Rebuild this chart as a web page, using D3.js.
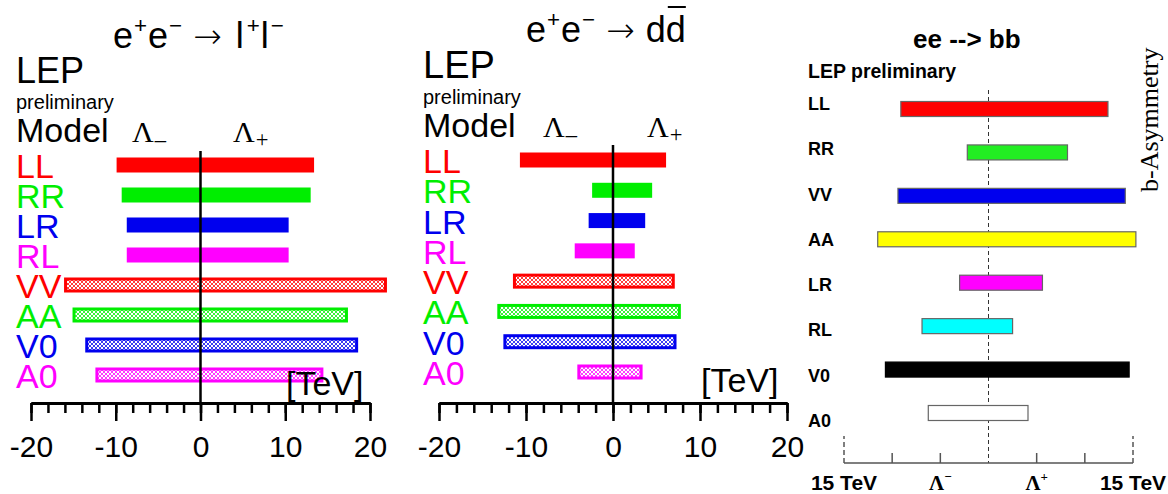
<!DOCTYPE html>
<html>
<head>
<meta charset="utf-8">
<script src="https://cdn.jsdelivr.net/npm/d3@7"></script>
<style>
  html, body { margin: 0; padding: 0; background: #fff; }
  svg { display: block; }
  text { font-family: "Liberation Sans", Arial, Helvetica, sans-serif; }
</style>
</head>
<body>
<svg id="chart" width="1168" height="494"></svg>
<script>
// Contact-interaction limits (95% CL), in TeV, for three LEP channels.

// e+e- -> l+l- and e+e- -> d dbar share the same model list
const models = ["LL", "RR", "LR", "RL", "VV", "AA", "V0", "A0"];
const modelColors = ["#ff0000", "#00ee00", "#0000ee", "#ff00ff", "#ff0000", "#00ee00", "#0000ee", "#ff00ff"];
const hatched = [false, false, false, false, true, true, true, true];

const leptonLow  = [-9.9, -9.3, -8.7, -8.7, -16.1, -15.1, -13.6, -12.4];
const leptonHigh = [13.4, 13.0, 10.4, 10.4, 22.0, 17.4, 18.6, 14.5];

const downLow  = [-10.7, -2.4, -2.8, -4.4, -11.5, -13.3, -12.6, -4.1];
const downHigh = [6.1, 4.5, 3.7, 2.5, 7.1, 7.8, 7.3, 3.4];

const axisTicks = [-20, -10, 0, 10, 20];
const minorTicks = d3.range(-20, 21, 2);

// e+e- -> b bbar (b-asymmetry)
const bModels = ["LL", "RR", "VV", "AA", "LR", "RL", "V0", "A0"];
const bColors = ["#ff0000", "#22ee22", "#0000ee", "#ffff00", "#ff00ff", "#00ffff", "#000000", "#ffffff"];
const bLow  = [-9.1, -2.2, -9.4, -11.5, -3.0, -6.9, -10.7, -6.25];
const bHigh = [12.4, 8.2, 14.2, 15.3, 5.6, 2.5, 14.6, 4.1];
const bTicks = [-15, -10, -5, 0, 5, 10, 15];
const bTickLabels = [
  { v: -15, t: "15 TeV" },
  { v: -5, t: "Λ", s: "−" },
  { v: 5, t: "Λ", s: "+" },
  { v: 15, t: "15 TeV" }
];

const svg = d3.select("#chart");
const defs = svg.append("defs");

// cross-hatch fills for the hatched bars
function hatchId(color) { return "hatch" + color.replace("#", ""); }
Array.from(new Set(modelColors)).forEach(function (c) {
  const p = defs.append("pattern")
    .attr("id", hatchId(c))
    .attr("patternUnits", "userSpaceOnUse")
    .attr("width", 4).attr("height", 4);
  p.append("rect").attr("width", 4).attr("height", 4).attr("fill", "#fff");
  p.append("path").attr("d", "M0,0L4,4M4,0L0,4")
    .attr("stroke", c).attr("stroke-width", 0.9).attr("opacity", 0.85);
});

// text with super/subscripts: parts = [[string, "n"|"sup"|"sub"|"arrow", dx], ...]
function richText(g, x, y, parts, size, family, weight, scriptScale) {
  const sc = scriptScale || 0.62;
  const t = g.append("text").attr("x", x).attr("y", y)
    .attr("font-size", size).attr("fill", "#000");
  if (family) t.style("font-family", family);
  if (weight) t.attr("font-weight", weight);
  let shift = 0;
  parts.forEach(function (p) {
    const s = p[0], kind = p[1], extra = p[2] || 0;
    let target = 0, fs = size;
    if (kind === "sup") { target = -size * 0.42; fs = size * sc; }
    if (kind === "sub") { target = size * 0.18; fs = size * sc; }
    const ts = t.append("tspan").attr("dy", target - shift).attr("font-size", fs)
      .attr("dx", extra).text(s);
    if (kind === "arrow") {
      ts.style("font-family", '"DejaVu Sans", sans-serif')
        .attr("font-weight", 200)
        .attr("font-size", size * 0.95);
    }
    shift = target;
  });
  return t;
}

function drawPanel(cfg) {
  const g = svg.append("g");
  const x = d3.scaleLinear().domain([-20, 20]).range(cfg.xRange);
  const y = d3.scalePoint().domain(models).range(cfg.yRange);
  const barH = 15;

  cfg.title(g);

  g.append("text").attr("x", cfg.left).attr("y", cfg.lepY)
    .attr("font-size", cfg.lepSize).text("LEP");
  g.append("text").attr("x", cfg.left).attr("y", cfg.prelY)
    .attr("font-size", 20).text("preliminary");
  g.append("text").attr("x", cfg.left).attr("y", cfg.modelY)
    .attr("font-size", 34).text("Model");
  const serif = '"Liberation Serif", "Times New Roman", serif';
  richText(g, cfg.lamMinusX, cfg.modelY, [["Λ", "n"], ["–", "sub", 1]], 30, serif, null, 0.75);
  richText(g, cfg.lamPlusX, cfg.modelY, [["Λ", "n"], ["+", "sub", 1]], 30, serif, null, 0.75);

  g.selectAll("text.model").data(models).join("text")
    .attr("class", "model")
    .attr("x", cfg.left)
    .attr("y", function (m) { return y(m) + 13; })
    .attr("font-size", 34)
    .attr("fill", function (m, i) { return modelColors[i]; })
    .text(function (m) { return m; });

  const rows = models.map(function (m, i) {
    return { m: m, lo: cfg.low[i], hi: cfg.high[i], c: modelColors[i], h: hatched[i] };
  });
  g.selectAll("rect.bar").data(rows).join("rect")
    .attr("class", "bar")
    .attr("x", function (r) { return x(r.lo) + (r.h ? 1.5 : 0); })
    .attr("width", function (r) { return x(r.hi) - x(r.lo) - (r.h ? 3 : 0); })
    .attr("y", function (r) { return y(r.m) - barH / 2 + (r.h ? 1.5 : 0); })
    .attr("height", function (r) { return barH - (r.h ? 3 : 0); })
    .attr("fill", function (r) { return r.h ? "url(#" + hatchId(r.c) + ")" : r.c; })
    .attr("stroke", function (r) { return r.h ? r.c : "none"; })
    .attr("stroke-width", 3);

  g.append("line")
    .attr("x1", x(0)).attr("x2", x(0))
    .attr("y1", cfg.zeroTop).attr("y2", cfg.axisY)
    .attr("stroke", "#000").attr("stroke-width", 2.5);

  g.append("text").attr("x", cfg.tevX).attr("y", cfg.tevY)
    .attr("font-size", 34).text("[TeV]");

  const minor = d3.axisBottom(x).tickValues(minorTicks).tickSize(10).tickSizeOuter(0).tickFormat("");
  const major = d3.axisBottom(x).tickValues(axisTicks).tickSize(18).tickSizeOuter(0).tickPadding(15)
    .tickFormat(function (v) { return v < 0 ? "-" + Math.abs(v) : String(v); });
  const ga = g.append("g").attr("transform", "translate(0," + cfg.axisY + ")").call(minor);
  const gb = g.append("g").attr("transform", "translate(0," + cfg.axisY + ")").call(major);
  [ga, gb].forEach(function (a) {
    a.select(".domain").attr("stroke", "#000").attr("stroke-width", 3);
    a.selectAll(".tick line").attr("stroke", "#000").attr("stroke-width", 2.5);
  });
  gb.selectAll(".tick text")
    .attr("font-size", 30).attr("fill", "#000")
    .style("font-family", '"Liberation Sans", Arial, sans-serif');
}

// panel 1: leptons
drawPanel({
  xRange: [31, 370], yRange: [165, 375], left: 16,
  low: leptonLow, high: leptonHigh,
  lepY: 83, lepSize: 36, prelY: 109, modelY: 142,
  lamMinusX: 132, lamPlusX: 233,
  zeroTop: 151, axisY: 403, tevX: 286, tevY: 395,
  title: function (g) {
    richText(g, 113, 48, [
      ["e", "n"], ["+", "sup", 1], ["e", "n", 1], ["−", "sup", 1],
      ["→", "arrow", 11], ["l", "n", 14], ["+", "sup", 3], ["l", "n", 1], ["−", "sup", 2]
    ], 36);
  }
});

// panel 2: down-type quarks
drawPanel({
  xRange: [439, 787], yRange: [160, 372], left: 423,
  low: downLow, high: downHigh,
  lepY: 78, lepSize: 38, prelY: 104, modelY: 137,
  lamMinusX: 543, lamPlusX: 647,
  zeroTop: 145, axisY: 403, tevX: 701, tevY: 392,
  title: function (g) {
    const t = richText(g, 526, 42, [
      ["e", "n"], ["+", "sup", 1], ["e", "n", 1], ["−", "sup", 1],
      ["→", "arrow", 11], ["dd", "n", 11]
    ], 36);
    // bar over the anti-quark
    const node = t.node();
    const n = node.getNumberOfChars();
    const s = node.getStartPositionOfChar(n - 1);
    const e = node.getEndPositionOfChar(n - 1);
    g.append("line").attr("x1", s.x + 2).attr("x2", e.x)
      .attr("y1", 7).attr("y2", 7).attr("stroke", "#000").attr("stroke-width", 2);
  }
});

// panel 3: b quarks
(function () {
  const g = svg.append("g");
  const x = d3.scaleLinear().domain([-15, 15]).range([844, 1133]);
  const y = d3.scalePoint().domain(bModels).range([109, 413]);
  const yLab = d3.scalePoint().domain(bModels).range([110, 427]);
  const axisY = 463;
  const sans = '"Liberation Sans", Arial, sans-serif';
  const serifB = '"Liberation Serif", "Times New Roman", serif';

  g.append("text").attr("x", 913).attr("y", 48)
    .attr("font-size", 26).attr("font-weight", "bold").text("ee --> bb");
  g.append("text").attr("x", 808).attr("y", 78)
    .attr("font-size", 19.5).attr("font-weight", "bold").text("LEP preliminary");

  g.selectAll("text.bm").data(bModels).join("text")
    .attr("class", "bm")
    .attr("x", 808).attr("y", function (m) { return yLab(m); })
    .attr("font-size", 18).attr("font-weight", "bold").text(function (m) { return m; });

  g.append("line").attr("x1", x(0)).attr("x2", x(0)).attr("y1", 90).attr("y2", axisY)
    .attr("stroke", "#333").attr("stroke-width", 1).attr("stroke-dasharray", "4,3");

  const rows = bModels.map(function (m, i) { return { m: m, lo: bLow[i], hi: bHigh[i], c: bColors[i] }; });
  g.selectAll("rect.bb").data(rows).join("rect")
    .attr("class", "bb")
    .attr("x", function (r) { return x(r.lo); })
    .attr("width", function (r) { return x(r.hi) - x(r.lo); })
    .attr("y", function (r) { return y(r.m) - 7.5; })
    .attr("height", 15)
    .attr("fill", function (r) { return r.c; })
    .attr("stroke", function (r) { return r.c === "#000000" ? "#000" : "#666"; })
    .attr("stroke-width", 1.2);

  g.append("line").attr("x1", x(-15)).attr("x2", x(15)).attr("y1", axisY).attr("y2", axisY)
    .attr("stroke", "#555").attr("stroke-width", 1.5);
  g.selectAll("line.bt").data(bTicks).join("line")
    .attr("class", "bt")
    .attr("x1", function (v) { return x(v); }).attr("x2", function (v) { return x(v); })
    .attr("y1", axisY)
    .attr("y2", function (v) { return Math.abs(v) === 15 ? axisY - 27 : (v === 0 ? axisY : axisY - 10); })
    .attr("stroke", "#555").attr("stroke-width", 1.5)
    .attr("stroke-dasharray", function (v) { return Math.abs(v) === 15 ? "5,3" : null; });

  bTickLabels.forEach(function (l) {
    if (l.s) {
      const t = richText(g, x(l.v), 490, [["Λ", "n"], [l.s, "sup", 0]], 21, serifB, "bold");
      t.attr("text-anchor", "middle");
    } else {
      g.append("text").attr("x", x(l.v)).attr("y", 490).attr("text-anchor", "middle")
        .attr("font-size", 21).attr("font-weight", "bold").style("font-family", sans).text(l.t);
    }
  });

  g.append("text")
    .attr("transform", "translate(1158,192) rotate(-90)")
    .attr("font-size", 26)
    .style("font-family", serifB)
    .text("b-Asymmetry");
})();
</script>
</body>
</html>
